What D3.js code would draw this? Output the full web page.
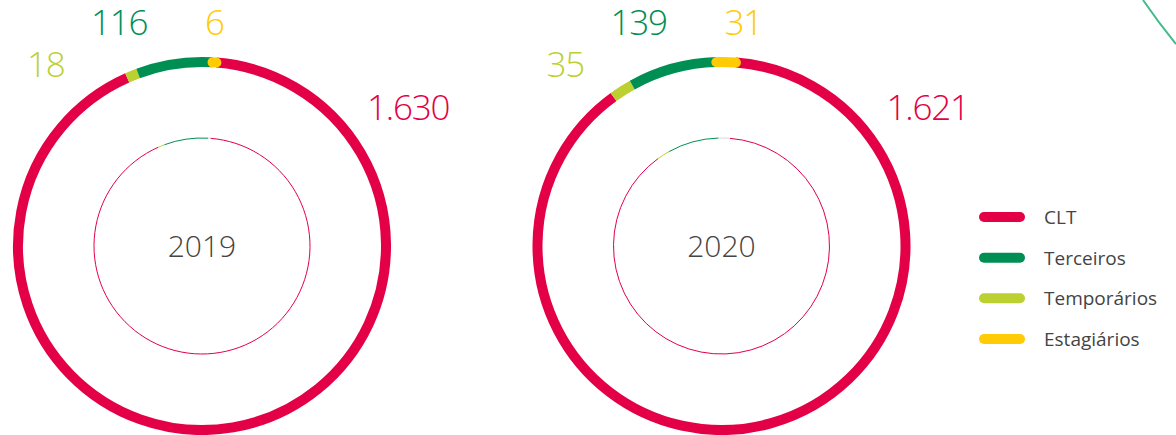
<!DOCTYPE html>
<html>
<head>
<meta charset="utf-8">
<script src="https://cdn.jsdelivr.net/npm/d3@7"></script>
<style>
  html, body { margin: 0; padding: 0; background: #fff; }
  svg { display: block; }
  text { font-family: "Open Sans", "Noto Sans", sans-serif; }
</style>
</head>
<body>
<svg id="chart" width="1176" height="435"></svg>
<script>
// ---- data ----
const categories = ["Temporários", "Terceiros", "Estagiários", "CLT"];
const legendOrder = ["CLT", "Terceiros", "Temporários", "Estagiários"];
const years = ["2019", "2020"];
const values2019 = [18, 116, 6, 1630];
const values2020 = [35, 139, 31, 1621];
const valueLabels2019 = ["18", "116", "6", "1.630"];
const valueLabels2020 = ["35", "139", "31", "1.621"];

// ---- styles / layout ----
const colors = {
  "CLT": "#e40046",
  "Terceiros": "#008f53",
  "Temporários": "#bdd032",
  "Estagiários": "#ffcb05"
};
const innerColors = {
  "CLT": "#e40046",
  "Terceiros": "#008f53",
  "Temporários": "#bdd032",
  "Estagiários": "#d9d9d9"
};
const centersX = [202, 721.5];
const centerY = 246;
const outerR = 184, innerR = 108;
const labelOffsets = {
  "Temporários": [-175, -169],
  "Terceiros": [-111, -211],
  "Estagiários": [3, -211],
  "CLT": [165, -126]
};
const groupEndDeg = 4.5;

const svg = d3.select("#chart");
const toRad = d => d * Math.PI / 180;

function arcPath(r, a0, a1) {
  const p = d3.path();
  p.arc(0, 0, r, a0 - Math.PI / 2, a1 - Math.PI / 2, false);
  return p.toString();
}

const datasets = [values2019, values2020];
const labelsets = [valueLabels2019, valueLabels2020];

datasets.forEach((vals, i) => {
  const data = categories.map((c, k) => ({ cat: c, value: vals[k], label: labelsets[i][k] }));
  const total = d3.sum(vals);
  const nonClt = d3.sum(data.filter(d => d.cat !== "CLT"), d => d.value);
  const groupAngle = 2 * Math.PI * nonClt / total;
  const start = toRad(groupEndDeg) - groupAngle;
  const pie = d3.pie().sort(null).value(d => d.value)
    .startAngle(start).endAngle(start + 2 * Math.PI);
  const arcs = pie(data);

  const g = svg.append("g").attr("transform", `translate(${centersX[i]},${centerY})`);

  const drawOrder = ["CLT", "Temporários", "Terceiros", "Estagiários"];
  drawOrder.forEach(cat => {
    const a = arcs.find(d => d.data.cat === cat);
    g.append("path")
      .attr("d", arcPath(outerR, a.startAngle, a.endAngle))
      .attr("fill", "none")
      .attr("stroke", colors[cat])
      .attr("stroke-width", 10)
      .attr("stroke-linecap", cat === "Estagiários" ? "round" : "butt");
    g.append("path")
      .attr("d", arcPath(innerR, a.startAngle, a.endAngle))
      .attr("fill", "none")
      .attr("stroke", innerColors[cat])
      .attr("stroke-width", 1);
  });

  g.append("text")
    .attr("x", 0).attr("y", 11)
    .attr("text-anchor", "middle")
    .attr("font-size", 30)
    .attr("font-weight", 300)
    .attr("fill", "#444")
    .text(years[i]);

  data.forEach(d => {
    const off = labelOffsets[d.cat];
    g.append("text")
      .attr("x", off[0]).attr("y", off[1])
      .attr("font-size", 35)
      .attr("font-weight", 300)
      .attr("letter-spacing", -1.2)
      .attr("fill", colors[d.cat])
      .text(d.label);
  });
});

// legend
const legendY = d3.scalePoint().domain(legendOrder).range([217, 339]);
const lg = svg.append("g");
legendOrder.forEach(cat => {
  lg.append("line")
    .attr("x1", 984).attr("x2", 1020)
    .attr("y1", legendY(cat)).attr("y2", legendY(cat))
    .attr("stroke", colors[cat])
    .attr("stroke-width", 10)
    .attr("stroke-linecap", "round");
  lg.append("text")
    .attr("x", 1044).attr("y", legendY(cat) + 7)
    .attr("font-size", 19)
    .attr("fill", "#444")
    .text(cat);
});

// decorative corner stroke
svg.append("path")
  .attr("d", "M1143,0 Q1158,22 1176,44")
  .attr("fill", "none")
  .attr("stroke", "#45bb8a")
  .attr("stroke-width", 2);
</script>
</body>
</html>
